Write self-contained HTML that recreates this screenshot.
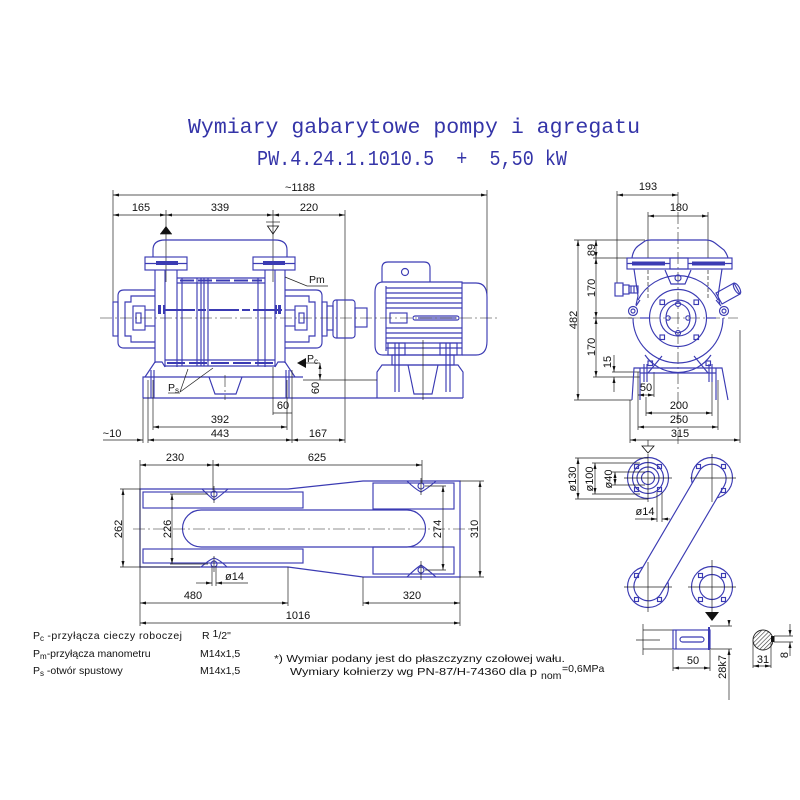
<!DOCTYPE html>
<html><head><meta charset="utf-8">
<style>
html,body{margin:0;padding:0;background:#fff;width:800px;height:800px;overflow:hidden}
svg{display:block}
.b{stroke:#3b3bb3;fill:none;stroke-width:1.15}
.b2{stroke:#3b3bb3;fill:none;stroke-width:2}
.bf{fill:#3b3bb3;stroke:none}
.k{stroke:#222;fill:none;stroke-width:0.7}
.d{stroke:#222;fill:none;stroke-width:0.7;marker-start:url(#a);marker-end:url(#a)}
.c{stroke:#222;fill:none;stroke-width:0.6;stroke-dasharray:12 3 2 3}
.t{font-family:"Liberation Sans",sans-serif;font-size:11px;fill:#111}
.s{font-family:"Liberation Sans",sans-serif;font-size:10.5px;fill:#111}
.ti{font-family:"Liberation Mono",monospace;font-size:21px;fill:#3434a8}
</style></head><body>
<svg xmlns="http://www.w3.org/2000/svg" width="800" height="800" viewBox="0 0 800 800">
<defs>
<marker id="a" viewBox="0 0 8 4" refX="8" refY="2" markerWidth="7" markerHeight="3" orient="auto-start-reverse" markerUnits="userSpaceOnUse"><path d="M0,0L8,2L0,4z" fill="#111"/></marker>
<pattern id="h" width="3" height="3" patternUnits="userSpaceOnUse" patternTransform="rotate(45)"><line x1="0" y1="0" x2="0" y2="3" stroke="#333" stroke-width="1.2"/></pattern>
</defs>
<rect width="800" height="800" fill="#fff"/>

<!-- TITLE -->
<text class="ti" x="188" y="133" textLength="452" lengthAdjust="spacingAndGlyphs">Wymiary gabarytowe pompy i agregatu</text>
<text class="ti" x="257" y="165" textLength="310" lengthAdjust="spacingAndGlyphs">PW.4.24.1.1010.5&#160;&#160;+&#160;&#160;5,50&#160;kW</text>

<!-- ============ FRONT VIEW ============ -->
<line class="d" x1="113" y1="195" x2="487" y2="195"/>
<text class="t" x="300" y="191" text-anchor="middle">~1188</text>
<line class="k" x1="113" y1="190" x2="113" y2="302"/>
<line class="k" x1="487" y1="190" x2="487" y2="318"/>
<line class="d" x1="113" y1="215" x2="166" y2="215"/>
<line class="d" x1="166" y1="215" x2="273" y2="215"/>
<line class="d" x1="273" y1="215" x2="345" y2="215"/>
<text class="t" x="141" y="211" text-anchor="middle">165</text>
<text class="t" x="220" y="211" text-anchor="middle">339</text>
<text class="t" x="309" y="211" text-anchor="middle">220</text>
<line class="k" x1="345" y1="210" x2="345" y2="443"/>
<line class="k" x1="166" y1="210" x2="166" y2="282"/>
<line class="k" x1="273" y1="210" x2="273" y2="282"/>
<polygon points="160,234 172,234 166,226" fill="#111"/>
<line class="k" x1="160" y1="234" x2="172" y2="234"/>
<polygon points="267.5,226 278.5,226 273,234" fill="none" stroke="#111" stroke-width="0.8"/>
<line class="k" x1="266" y1="222" x2="280" y2="222"/>

<path class="b" d="M153,257 L153,250 Q153,240 165,240 L275,240 Q287,240 287,250 L287,257"/>
<rect class="b" x="145" y="257" width="42" height="13"/>
<line class="b" x1="145" y1="263.5" x2="187" y2="263.5"/>
<rect class="bf" x="156" y="261" width="22" height="4"/>
<rect class="b" x="253" y="257" width="42" height="13"/>
<line class="b" x1="253" y1="263.5" x2="295" y2="263.5"/>
<rect class="bf" x="263" y="261" width="22" height="4"/>
<line class="b" x1="155" y1="270" x2="155" y2="363"/>
<line class="b" x1="165" y1="270" x2="165" y2="367"/>
<line class="b" x1="177" y1="270" x2="177" y2="367"/>
<line class="b" x1="265" y1="270" x2="265" y2="367"/>
<line class="b" x1="275" y1="270" x2="275" y2="367"/>
<line class="b" x1="285" y1="270" x2="285" y2="363"/>
<line class="b" x1="177" y1="278" x2="265" y2="278"/>
<line class="b" x1="177" y1="283" x2="265" y2="283"/>
<line class="b2" x1="180" y1="280.5" x2="262" y2="280.5" stroke-dasharray="14 4"/>
<line class="b" x1="165" y1="360" x2="275" y2="360"/>
<line class="b" x1="165" y1="366" x2="275" y2="366"/>
<line class="b2" x1="167" y1="363" x2="273" y2="363" stroke-dasharray="18 4"/>
<line class="b" x1="182" y1="278" x2="182" y2="366"/>
<line class="b" x1="197" y1="278" x2="197" y2="366"/>
<line class="b" x1="201" y1="278" x2="201" y2="366"/>
<line class="b" x1="204" y1="278" x2="204" y2="366"/>
<line class="b" x1="208" y1="278" x2="208" y2="366"/>
<line class="b" x1="258" y1="278" x2="258" y2="366"/>
<line class="b2" x1="165" y1="310" x2="282" y2="310" stroke-dasharray="30 3 8 3"/>
<rect class="bf" x="158" y="305" width="3" height="9"/>
<rect class="bf" x="163" y="305" width="2" height="9"/>
<rect class="bf" x="278" y="305" width="3" height="9"/>
<rect class="bf" x="275" y="305" width="2" height="9"/>
<path class="b" d="M155,290 L124,290 Q118,290 118,296 L118,342 Q118,348 124,348 L155,348"/>
<path class="b" d="M155,296 L131,296 L131,302 L125,302 L125,336 L131,336 L131,342 L155,342"/>
<rect class="b" x="113" y="302" width="5" height="34"/>
<rect class="b" x="133" y="306" width="12" height="24"/>
<rect class="b" x="136" y="313" width="5" height="10"/>
<line class="b" x1="145" y1="310" x2="155" y2="310"/>
<line class="b" x1="145" y1="326" x2="155" y2="326"/>
<path class="b" d="M285,290 L316,290 Q322,290 322,296 L322,342 Q322,348 316,348 L285,348"/>
<path class="b" d="M285,296 L309,296 L309,302 L315,302 L315,336 L309,336 L309,342 L285,342"/>
<rect class="b" x="322" y="302" width="5" height="34"/>
<rect class="b" x="295" y="306" width="12" height="24"/>
<rect class="b" x="299" y="313" width="5" height="10"/>
<line class="b" x1="285" y1="310" x2="295" y2="310"/>
<line class="b" x1="285" y1="326" x2="295" y2="326"/>
<rect class="b" x="327" y="306" width="6" height="24"/>
<rect class="b" x="333" y="300" width="22" height="38" rx="3"/>
<line class="b" x1="337" y1="300" x2="337" y2="338"/>
<rect class="b" x="355" y="308" width="12" height="19"/>
<path class="b" d="M145,377 L155,362 L162,362 L165,367"/>
<path class="b" d="M295,377 L285,362 L278,362 L275,367"/>
<line class="b" x1="151" y1="370" x2="151" y2="398"/>
<line class="b" x1="154" y1="370" x2="154" y2="398"/>
<line class="b" x1="286" y1="370" x2="286" y2="398"/>
<line class="b" x1="289" y1="370" x2="289" y2="398"/>
<path class="b" d="M143,398 L143,377 L303,377"/>
<line class="b" x1="143" y1="398" x2="463" y2="398"/>
<path class="b" d="M209,377 L215,394 L236,394 L242,377"/>
<line class="c" x1="225" y1="375" x2="225" y2="400"/>

<path class="b" d="M382,282 L382,268 Q382,262 388,262 L424,262 Q430,262 430,268 L430,282"/>
<circle class="b" cx="405" cy="272" r="3.5"/>
<path class="b" d="M383,282 L462,282 L462,355 L383,355 Q375,355 375,345 L375,292 Q375,282 383,282 Z"/>
<line class="b" x1="386" y1="286" x2="386" y2="351"/>
<g class="b">
<line x1="386" y1="288" x2="462" y2="288"/><line x1="386" y1="293" x2="462" y2="293"/>
<line x1="386" y1="298" x2="462" y2="298"/><line x1="386" y1="303" x2="462" y2="303"/>
<line x1="386" y1="308" x2="462" y2="308"/>
<line x1="386" y1="328" x2="462" y2="328"/><line x1="386" y1="333" x2="462" y2="333"/>
<line x1="386" y1="338" x2="462" y2="338"/><line x1="386" y1="343" x2="462" y2="343"/>
<line x1="386" y1="348" x2="462" y2="348"/>
</g>
<rect class="b" x="390" y="313" width="17" height="10"/>
<rect class="b" x="413" y="316" width="46" height="4" rx="2"/>
<line class="b" x1="418" y1="318" x2="456" y2="318" stroke-width="1.5"/>
<path class="b" d="M462,283 L476,283 Q487,283 487,297 L487,341 Q487,355 476,355 L462,355"/>
<rect class="b" x="388" y="343" width="17" height="12"/>
<rect class="b" x="440" y="343" width="17" height="12"/>
<rect class="b" x="392" y="355" width="62" height="10"/>
<line class="b" x1="395" y1="343" x2="395" y2="392"/>
<line class="b" x1="399" y1="343" x2="399" y2="392"/>
<line class="b" x1="446" y1="343" x2="446" y2="392"/>
<line class="b" x1="450" y1="343" x2="450" y2="392"/>
<path class="b" d="M377,398 L377,372 L382,365 L458,365 L463,372 L463,398"/>
<path class="b" d="M408,365 L414,394 L432,394 L438,365"/>
<line class="k" x1="423" y1="340" x2="423" y2="400"/>
<line class="c" x1="100" y1="318" x2="500" y2="318"/>

<polyline class="k" points="285,277 307,286 328,286"/>
<text class="s" x="309" y="283">Pm</text>
<polygon points="297,363 306,358 306,368" fill="#111"/>
<text class="s" x="307" y="362">P<tspan font-size="8" dy="2">c</tspan></text>
<line class="k" x1="306" y1="363" x2="320" y2="363"/>
<text class="s" x="168" y="391">P<tspan font-size="8" dy="2">s</tspan></text>
<line class="k" x1="168" y1="393" x2="180" y2="393"/>
<line class="k" x1="180" y1="392" x2="188" y2="369"/>
<line class="k" x1="180" y1="392" x2="213" y2="368"/>
<line class="d" x1="320" y1="363" x2="320" y2="380"/>
<line class="k" x1="303" y1="380" x2="377" y2="380"/>
<text class="t" transform="translate(319,388) rotate(-90)" text-anchor="middle">60</text>

<line class="k" x1="273" y1="367" x2="273" y2="415"/>
<line class="k" x1="292" y1="370" x2="292" y2="443"/>
<line class="k" x1="273" y1="413" x2="292" y2="413"/>
<text class="t" x="283" y="409" text-anchor="middle">60</text>
<line class="k" x1="153" y1="380" x2="153" y2="430"/>
<line class="k" x1="287" y1="380" x2="287" y2="430"/>
<line class="d" x1="153" y1="427" x2="287" y2="427"/>
<text class="t" x="220" y="423" text-anchor="middle">392</text>
<line class="k" x1="143" y1="398" x2="143" y2="443"/>
<line class="k" x1="148" y1="380" x2="148" y2="443"/>
<line class="k" x1="103" y1="440" x2="143" y2="440" style="marker-end:url(#a)"/>
<line class="d" x1="148" y1="440" x2="292" y2="440"/>
<line class="d" x1="292" y1="440" x2="345" y2="440"/>
<text class="t" x="112" y="437" text-anchor="middle">~10</text>
<text class="t" x="220" y="437" text-anchor="middle">443</text>
<text class="t" x="318" y="437" text-anchor="middle">167</text>

<!-- ============ RIGHT VIEW ============ -->
<line class="d" x1="617" y1="195" x2="678" y2="195"/>
<text class="t" x="648" y="190" text-anchor="middle">193</text>
<line class="k" x1="617" y1="191" x2="617" y2="283"/>
<line class="d" x1="648" y1="216" x2="708" y2="216"/>
<text class="t" x="679" y="211" text-anchor="middle">180</text>
<line class="k" x1="648" y1="212" x2="648" y2="258"/>
<line class="k" x1="708" y1="212" x2="708" y2="258"/>
<line class="k" x1="648" y1="270" x2="648" y2="300" stroke-dasharray="4 2"/>
<line class="k" x1="708" y1="270" x2="708" y2="300" stroke-dasharray="4 2"/>
<line class="c" x1="678" y1="192" x2="678" y2="445"/>
<line class="c" x1="628" y1="318" x2="738" y2="318"/>
<line class="d" x1="578" y1="240" x2="578" y2="400"/>
<text class="t" transform="translate(577,320) rotate(-90)" text-anchor="middle">482</text>
<line class="k" x1="574" y1="240" x2="645" y2="240"/>
<line class="k" x1="574" y1="400" x2="632" y2="400"/>
<line class="d" x1="596" y1="240" x2="596" y2="258"/>
<line class="d" x1="596" y1="258" x2="596" y2="318"/>
<line class="d" x1="596" y1="318" x2="596" y2="377"/>
<line class="k" x1="593" y1="258" x2="627" y2="258"/>
<line class="k" x1="593" y1="318" x2="632" y2="318"/>
<line class="k" x1="593" y1="377" x2="640" y2="377"/>
<text class="t" transform="translate(595,250) rotate(-90)" text-anchor="middle">89</text>
<text class="t" transform="translate(595,288) rotate(-90)" text-anchor="middle">170</text>
<text class="t" transform="translate(595,347) rotate(-90)" text-anchor="middle">170</text>
<line class="k" x1="612" y1="372" x2="640" y2="372"/>
<line class="k" x1="614" y1="355" x2="614" y2="372" style="marker-end:url(#a)"/>
<line class="k" x1="614" y1="392" x2="614" y2="377" style="marker-end:url(#a)"/>
<text class="t" transform="translate(611,362) rotate(-90)" text-anchor="middle">15</text>
<line class="k" x1="638" y1="372" x2="638" y2="397"/>
<line class="k" x1="654" y1="372" x2="654" y2="397"/>
<line class="d" x1="638" y1="395" x2="654" y2="395"/>
<text class="t" x="646" y="391" text-anchor="middle">50</text>
<line class="k" x1="646" y1="397" x2="646" y2="416"/>
<line class="k" x1="712" y1="380" x2="712" y2="416"/>
<line class="d" x1="646" y1="413" x2="712" y2="413"/>
<text class="t" x="679" y="409" text-anchor="middle">200</text>
<line class="k" x1="638" y1="397" x2="638" y2="430"/>
<line class="k" x1="718" y1="380" x2="718" y2="430"/>
<line class="d" x1="638" y1="427" x2="718" y2="427"/>
<text class="t" x="679" y="423" text-anchor="middle">250</text>
<line class="k" x1="630" y1="400" x2="630" y2="443"/>
<line class="k" x1="740" y1="330" x2="740" y2="443"/>
<line class="d" x1="630" y1="440" x2="740" y2="440"/>
<text class="t" x="680" y="437" text-anchor="middle">315</text>

<path class="b" d="M632,258 Q633,250 638,246 L645,241 Q647,240 651,240 L706,240 Q711,240 715,243 L724,250 Q727,254 728,258"/>
<rect class="b" x="627" y="258" width="105" height="11"/>
<line class="b" x1="627" y1="263.5" x2="670" y2="263.5"/>
<line class="b" x1="688" y1="263.5" x2="732" y2="263.5"/>
<rect class="bf" x="632" y="261.5" width="33" height="4"/>
<rect class="bf" x="692" y="261.5" width="33" height="4"/>
<rect class="b" x="670" y="258" width="18" height="11" fill="#fff"/>
<path class="b" d="M665,270 L671,284 L685,284 L691,270"/>
<circle class="b" cx="678" cy="278" r="3"/>
<path class="b" d="M634,269 L638,296 L636,305"/>
<path class="b" d="M722,269 L718,296 L720,305"/>
<circle class="b" cx="633" cy="311" r="4.5"/>
<circle class="b" cx="633" cy="311" r="2"/>
<circle class="b" cx="724" cy="311" r="4.5"/>
<circle class="b" cx="724" cy="311" r="2"/>
<path class="b" d="M636,306 L640,300"/>
<path class="b" d="M721,306 L716,300"/>
<path class="b" d="M633,318 A45,45 0 0 0 723,318"/>
<path class="b" d="M638,300 A45,45 0 0 1 718,300"/>
<path class="b" d="M645,355 A40,40 0 0 0 711,355"/>
<circle class="b" cx="678" cy="318" r="28.5"/>
<circle class="b" cx="678" cy="318" r="18"/>
<path class="b" d="M678,303 Q690,306 690,318 Q690,330 678,333 Q666,330 666,318 Q666,306 678,303 Z"/>
<circle class="b" cx="678" cy="304" r="2.5"/>
<circle class="b" cx="678" cy="333" r="2.5"/>
<circle class="b" cx="668" cy="318" r="2.2"/>
<circle class="b" cx="688" cy="318" r="2.2"/>
<g class="b">
<rect x="660" y="300" width="4.5" height="4.5"/><rect x="694" y="300" width="4.5" height="4.5"/>
<rect x="660" y="335" width="4.5" height="4.5"/><rect x="694" y="335" width="4.5" height="4.5"/>
<rect x="648" y="361" width="4.5" height="4.5"/><rect x="706" y="361" width="4.5" height="4.5"/>
</g>
<line class="b" x1="640" y1="318" x2="650" y2="318"/>
<line class="b" x1="706" y1="318" x2="716" y2="318"/>
<path class="b" d="M632,400 L634,368 L722,368 L728,400"/>
<line class="b" x1="640" y1="373" x2="716" y2="373"/>
<line class="b" x1="640" y1="368" x2="640" y2="400"/>
<line class="b" x1="716" y1="368" x2="716" y2="400"/>
<path class="b" d="M648,373 L662,356"/>
<path class="b" d="M708,373 L694,356"/>
<line class="b" x1="644" y1="364" x2="644" y2="382"/>
<line class="b" x1="647" y1="364" x2="647" y2="382"/>
<line class="b" x1="709" y1="364" x2="709" y2="382"/>
<line class="b" x1="712" y1="364" x2="712" y2="382"/>
<rect class="b" x="615" y="283" width="8" height="13"/>
<rect class="b" x="623" y="285" width="6" height="9"/>
<rect class="b" x="629" y="286" width="9" height="7"/>
<line class="b" x1="631" y1="286" x2="631" y2="293"/><line class="b" x1="634" y1="286" x2="634" y2="293"/>
<polygon class="b" points="716,293 734,283 740,294 722,304"/>
<ellipse class="b" cx="737" cy="288.5" rx="2.5" ry="6" transform="rotate(-30 737 288.5)"/>

<!-- ============ BASE PLAN ============ -->
<path class="b" d="M140,489 L288,489 L363,481 L460,481 L460,577 L363,577 L288,567 L140,567 Z"/>
<rect class="b" x="143" y="492" width="160" height="16"/>
<rect class="b" x="143" y="549" width="160" height="14"/>
<rect class="b" x="373" y="483" width="81" height="26"/>
<rect class="b" x="373" y="547" width="81" height="27"/>
<path class="b" d="M201,510 L407,510 A18.5,18.5 0 0 1 407,547 L201,547 A18.5,18.5 0 0 1 201,510 Z"/>
<line class="c" x1="133" y1="529" x2="470" y2="529"/>
<g class="b">
<circle cx="214" cy="494" r="3"/><circle cx="214" cy="564" r="3"/>
<circle cx="421" cy="486" r="3"/><circle cx="421" cy="570" r="3"/>
<path d="M202,489 Q210,497 214,500 Q219,497 228,489"/>
<path d="M201,567 Q209,560 214,558 Q220,560 227,567"/>
<path d="M407,481 Q415,489 421,492 Q427,489 436,481"/>
<path d="M407,577 Q415,569 421,565 Q427,569 436,577"/>
</g>
<g class="k">
<line x1="214" y1="486" x2="214" y2="503"/><line x1="214" y1="556" x2="214" y2="572"/>
<line x1="421" y1="478" x2="421" y2="495"/><line x1="421" y1="561" x2="421" y2="580"/>
</g>
<line class="d" x1="140" y1="465" x2="213" y2="465"/>
<line class="d" x1="213" y1="465" x2="422" y2="465"/>
<text class="t" x="175" y="461" text-anchor="middle">230</text>
<text class="t" x="317" y="461" text-anchor="middle">625</text>
<line class="k" x1="140" y1="460" x2="140" y2="626"/>
<line class="k" x1="213" y1="460" x2="213" y2="490"/>
<line class="k" x1="422" y1="460" x2="422" y2="483"/>
<line class="d" x1="123" y1="489" x2="123" y2="567"/>
<line class="k" x1="120" y1="489" x2="140" y2="489"/>
<line class="k" x1="120" y1="567" x2="200" y2="567"/>
<text class="t" transform="translate(122,529) rotate(-90)" text-anchor="middle">262</text>
<line class="d" x1="172" y1="494" x2="172" y2="564"/>
<line class="k" x1="170" y1="494" x2="208" y2="494"/>
<line class="k" x1="170" y1="564" x2="208" y2="564"/>
<text class="t" transform="translate(171,529) rotate(-90)" text-anchor="middle">226</text>
<line class="d" x1="443" y1="486" x2="443" y2="570"/>
<line class="k" x1="425" y1="486" x2="446" y2="486"/>
<line class="k" x1="425" y1="570" x2="446" y2="570"/>
<text class="t" transform="translate(441,529) rotate(-90)" text-anchor="middle">274</text>
<line class="d" x1="480" y1="481" x2="480" y2="577"/>
<line class="k" x1="460" y1="481" x2="484" y2="481"/>
<line class="k" x1="460" y1="577" x2="484" y2="577"/>
<text class="t" transform="translate(478,529) rotate(-90)" text-anchor="middle">310</text>
<line class="k" x1="212" y1="566" x2="212" y2="586"/>
<line class="k" x1="216" y1="566" x2="216" y2="586"/>
<line class="k" x1="196" y1="583" x2="212" y2="583" style="marker-end:url(#a)"/>
<line class="k" x1="248" y1="583" x2="216" y2="583" style="marker-end:url(#a)"/>
<text class="t" x="225" y="580">ø14</text>
<line class="k" x1="288" y1="567" x2="288" y2="606"/>
<line class="k" x1="363" y1="577" x2="363" y2="606"/>
<line class="k" x1="460" y1="577" x2="460" y2="626"/>
<line class="d" x1="140" y1="603" x2="288" y2="603"/>
<text class="t" x="193" y="599" text-anchor="middle">480</text>
<line class="d" x1="363" y1="603" x2="460" y2="603"/>
<text class="t" x="412" y="599" text-anchor="middle">320</text>
<line class="d" x1="140" y1="623" x2="460" y2="623"/>
<text class="t" x="298" y="619" text-anchor="middle">1016</text>

<!-- ============ FLANGES ============ -->
<polygon points="642,446 654,446 648,453" fill="none" stroke="#111" stroke-width="0.8"/>
<line class="k" x1="648" y1="440" x2="648" y2="446"/>
<g class="b">
<circle cx="648" cy="478" r="20.5"/><circle cx="648" cy="478" r="15.5"/>
<circle cx="648" cy="478" r="11"/><circle cx="648" cy="478" r="6.5"/>
</g>
<circle class="b" cx="712" cy="478" r="20.5"/>
<circle class="b" cx="648" cy="587" r="20.5"/>
<circle class="b" cx="712" cy="587" r="20.5"/>
<circle class="b" cx="712" cy="587" r="12.5"/>
<path class="b" fill="#fff" style="fill:#fff" d="M699.5,470.7 A14.5,14.5 0 0 1 724.5,485.3 L660.5,594.3 A14.5,14.5 0 0 1 635.5,579.7 Z"/>
<g class="b" stroke-width="0.9">
<rect x="634.5" y="464.5" width="4" height="4"/><rect x="657.5" y="464.5" width="4" height="4"/>
<rect x="634.5" y="487.5" width="4" height="4"/><rect x="657.5" y="487.5" width="4" height="4"/>
<rect x="696.5" y="464.5" width="4" height="4"/><rect x="721.5" y="464.5" width="4" height="4"/>
<rect x="721.5" y="488.5" width="4" height="4"/>
<rect x="634.5" y="573.5" width="4" height="4"/><rect x="634.5" y="597.5" width="4" height="4"/>
<rect x="657.5" y="597.5" width="4" height="4"/>
<rect x="698.5" y="573.5" width="4" height="4"/><rect x="721.5" y="573.5" width="4" height="4"/>
<rect x="698.5" y="597.5" width="4" height="4"/><rect x="721.5" y="597.5" width="4" height="4"/>
</g>
<g class="k">
<line x1="624" y1="478" x2="672" y2="478"/><line x1="648" y1="454" x2="648" y2="502"/>
<line x1="690" y1="478" x2="736" y2="478"/><line x1="712" y1="454" x2="712" y2="502"/>
<line x1="624" y1="587" x2="672" y2="587"/><line x1="648" y1="562" x2="648" y2="612"/>
<line x1="688" y1="587" x2="736" y2="587"/><line x1="712" y1="560" x2="712" y2="612"/>
</g>
<polygon points="705,612 719,612 712,621" fill="#111"/>
<line class="k" x1="575" y1="458" x2="648" y2="458"/>
<line class="k" x1="575" y1="499" x2="648" y2="499"/>
<line class="d" x1="578" y1="458" x2="578" y2="499"/>
<text class="t" transform="translate(576,479) rotate(-90)" text-anchor="middle">ø130</text>
<line class="k" x1="592" y1="463" x2="640" y2="463"/>
<line class="k" x1="592" y1="494" x2="640" y2="494"/>
<line class="d" x1="595" y1="463" x2="595" y2="494"/>
<text class="t" transform="translate(593,479) rotate(-90)" text-anchor="middle">ø100</text>
<line class="k" x1="612" y1="472" x2="645" y2="472"/>
<line class="k" x1="612" y1="485" x2="645" y2="485"/>
<line class="d" x1="615" y1="472" x2="615" y2="485"/>
<text class="t" transform="translate(612,479) rotate(-90)" text-anchor="middle">ø40</text>
<line class="k" x1="657" y1="492" x2="657" y2="522"/>
<line class="k" x1="662" y1="492" x2="662" y2="522"/>
<line class="k" x1="635" y1="519" x2="657" y2="519" style="marker-end:url(#a)"/>
<line class="k" x1="670" y1="519" x2="662" y2="519" style="marker-end:url(#a)"/>
<text class="t" x="645" y="515" text-anchor="middle">ø14</text>

<!-- shaft detail -->
<line class="k" x1="636" y1="640" x2="660" y2="640"/>
<line class="k" x1="643" y1="624" x2="643" y2="655"/>
<line class="k" x1="643" y1="630" x2="673" y2="630"/>
<line class="k" x1="643" y1="649" x2="673" y2="649"/>
<rect class="b" x="673" y="630" width="37" height="19"/>
<line class="b" x1="676" y1="630" x2="676" y2="649"/>
<rect class="b" x="680" y="637" width="24" height="5" rx="2.5"/>
<line class="b2" x1="709" y1="627" x2="709" y2="650"/>
<line class="k" x1="710" y1="626" x2="732" y2="626"/>
<line class="k" x1="710" y1="649" x2="732" y2="649"/>
<line class="k" x1="729" y1="622" x2="729" y2="626" style="marker-end:url(#a)"/>
<line class="k" x1="729" y1="700" x2="729" y2="649" style="marker-end:url(#a)"/>
<text class="t" transform="translate(726,667) rotate(-90)" text-anchor="middle">28k7</text>
<line class="k" x1="673" y1="650" x2="673" y2="671"/>
<line class="k" x1="710" y1="650" x2="710" y2="671"/>
<line class="d" x1="673" y1="668" x2="710" y2="668"/>
<text class="t" x="693" y="664" text-anchor="middle">50</text>
<circle cx="763" cy="640" r="10" fill="url(#h)" stroke="#222" stroke-width="0.9"/>
<rect x="771" y="636" width="3.5" height="6" fill="#111"/>
<line class="k" x1="753" y1="640" x2="753" y2="668"/>
<line class="k" x1="771" y1="642" x2="771" y2="668"/>
<line class="d" x1="753" y1="666" x2="771" y2="666"/>
<text class="t" x="763" y="663" text-anchor="middle">31</text>
<line class="k" x1="774" y1="636" x2="793" y2="636"/>
<line class="k" x1="774" y1="642" x2="793" y2="642"/>
<line class="k" x1="790" y1="624" x2="790" y2="636" style="marker-end:url(#a)"/>
<line class="k" x1="790" y1="656" x2="790" y2="642" style="marker-end:url(#a)"/>
<text class="t" transform="translate(788,655) rotate(-90)" text-anchor="middle">8</text>

<!-- ============ LEGEND & NOTES ============ -->
<text class="s" x="33" y="639">P<tspan font-size="8" dy="2">c</tspan><tspan dy="-2" textLength="138"> -przyłącza cieczy roboczej</tspan></text>
<text class="s" x="202" y="639">R <tspan dy="-2">1</tspan><tspan dy="2">/2"</tspan></text>
<text class="s" x="33" y="657">P<tspan font-size="8" dy="2">m</tspan><tspan dy="-2">-przyłącza manometru</tspan></text>
<text class="s" x="200" y="657">M14x1,5</text>
<text class="s" x="33" y="674">P<tspan font-size="8" dy="2">s</tspan><tspan dy="-2"> -otwór spustowy</tspan></text>
<text class="s" x="200" y="674">M14x1,5</text>
<text class="s" x="274" y="662" textLength="291" lengthAdjust="spacingAndGlyphs">*) Wymiar podany jest do płaszczyzny czołowej wału.</text>
<text class="s" x="290" y="675" textLength="247" lengthAdjust="spacingAndGlyphs">Wymiary kołnierzy wg PN-87/H-74360 dla p</text>
<text class="s" x="541" y="679" font-size="9">nom</text>
<text class="s" x="562" y="672">=0,6MPa</text>
</svg>
</body></html>
